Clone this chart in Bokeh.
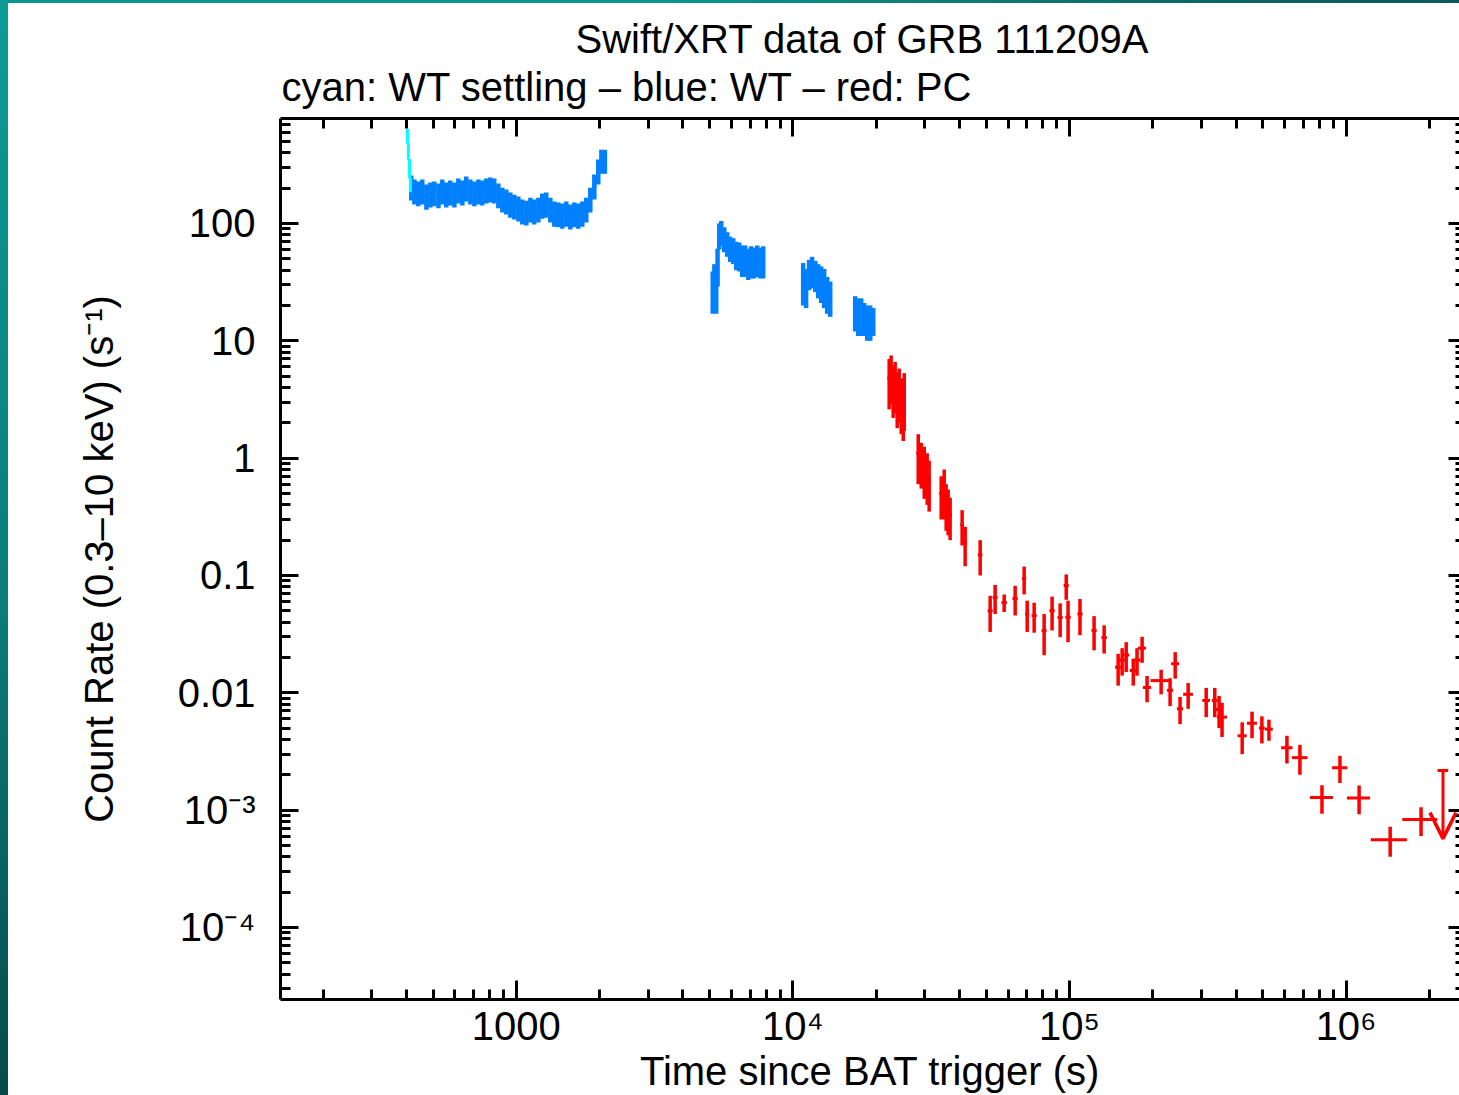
from bokeh.plotting import figure
from bokeh.models import (ColumnDataSource, FixedTicker, LogAxis, Title, Arrow,
                          OpenHead, Div, Range1d)
from bokeh.layouts import row, column
from bokeh.embed import file_html
from bokeh.resources import INLINE

# ---------------- data ----------------
# WT settling mode (cyan)
t_wts = [404, 407, 411, 414]
r_wts = [560, 420, 300, 215]
e_wts = [80, 70, 55, 30]
dt_wts = [1.5, 1.5, 1.5, 1.5]

# WT mode (blue), first orbit
t_wt1 = [417, 428, 442, 457, 473, 489, 505, 523, 540, 558, 577, 597, 617, 638, 659,
         682, 705, 729, 753, 779, 805, 832, 861, 890, 920, 951, 983, 1017, 1051, 1087,
         1124, 1161, 1201, 1241, 1283, 1327, 1372, 1418, 1466, 1516, 1567, 1620, 1675,
         1732, 1790, 1851, 1914, 1978, 2030, 2090]
r_wt1 = [207, 191, 184, 191, 173, 180, 184, 177, 191, 180, 187, 180, 195, 187, 203,
         191, 184, 191, 187, 195, 199, 195, 177, 163, 157, 148, 142, 137, 129, 126,
         134, 129, 134, 145, 148, 134, 124, 122, 119, 124, 117, 122, 119, 124, 134,
         163, 211, 283, 345, 345]
e_wt1 = [50, 46, 44, 46, 42, 43, 44, 42, 46, 43, 45, 43, 47, 45, 49, 46, 44, 46, 45, 47,
         48, 47, 42, 39, 38, 36, 34, 33, 31, 30, 32, 31, 32, 35, 36, 32, 30, 29, 29, 30,
         28, 29, 29, 30, 32, 39, 51, 68, 80, 80]
dt_wt1 = [7, 7, 7, 8, 8, 8, 8, 9, 9, 9, 10, 10, 10, 11, 11, 11, 12, 12, 12, 13, 13, 14,
          14, 15, 15, 16, 16, 17, 17, 18, 19, 19, 20, 21, 21, 22, 23, 23, 24, 25, 26, 27,
          28, 28, 29, 30, 31, 32, 20, 25]

# WT mode (blue), later orbits
t_wt2 = [5130, 5200, 5280, 5340, 5415, 5505, 5645, 5790, 5935, 6085, 6240, 6395, 6555,
         6725, 6895, 7065, 7245, 7430, 7615, 7810]
r_wt2 = [28, 32, 24, 45, 80, 85, 75, 68, 62, 60, 55, 54, 50, 50, 47, 49, 48, 50, 48, 49]
e_wt2 = [11, 13, 7, 16, 20, 20, 18, 16, 15, 15, 15, 15, 15, 15, 14, 15, 14, 15, 14, 15]
dt_wt2 = [60, 60, 60, 65, 70, 70, 70, 75, 75, 80, 80, 85, 85, 90, 90, 90, 95, 95, 100, 100]

t_wt3 = [10890, 11160, 11440, 11730, 12040, 12340, 12650, 12970, 13300, 13640]
r_wt3 = [33, 30, 38, 40, 37, 34, 32, 30, 26, 24]
e_wt3 = [13, 11, 11, 12, 11, 11, 11, 11, 9, 8]
dt_wt3 = [140, 140, 145, 150, 155, 160, 160, 165, 170, 175]

t_wt4 = [16790, 17220, 17650, 18100, 18560, 19030, 19510]
r_wt4 = [18, 17, 17, 16, 15, 15, 15]
e_wt4 = [6, 6, 6, 5, 5, 5, 4]
dt_wt4 = [210, 215, 220, 225, 230, 240, 245]

# PC mode (red)
t_pc = [22280, 22650, 23030, 23420, 23820, 24220, 24630, 25050, 25260,
        28380, 29100, 29840, 30570, 31080,
        34360, 35230, 35810, 36410, 37010,
        40900, 41940, 47530,
        51650, 53830, 58050, 63600, 68550, 70300, 74500, 80950, 86500, 92500, 97300,
        98800, 109100, 122700, 133400,
        149900, 155000, 160300, 170000, 175400, 183000, 190700, 214400, 231000, 241000,
        251000, 268500, 312000, 335000, 347300, 356000, 421000, 457000, 496000, 526000,
        611000, 680700, 818000, 950000, 1114000, 1443000, 1866000]
r_pc = [4.8, 5.2, 4.2, 4.5, 3.6, 3.9, 3.2, 2.7, 3.5,
        1.1, 0.95, 0.85, 0.75, 0.65,
        0.5, 0.55, 0.42, 0.38, 0.33,
        0.27, 0.19, 0.15,
        0.050, 0.065, 0.0588, 0.0636, 0.094, 0.047, 0.0455, 0.0339, 0.050, 0.0438, 0.082,
        0.044, 0.047, 0.034, 0.0296,
        0.0165, 0.019, 0.021, 0.0155, 0.019, 0.024, 0.0111, 0.0127, 0.0105, 0.0177,
        0.0073, 0.0097, 0.0086, 0.0086, 0.0072, 0.0062, 0.0043, 0.0055, 0.0050, 0.0049,
        0.0034, 0.0028, 0.00128, 0.0023, 0.00127, 0.00056, 0.00083]
e_pc = [2.2, 2.3, 2.0, 2.1, 1.8, 1.9, 1.6, 1.3, 1.8,
        0.5, 0.4, 0.4, 0.35, 0.3,
        0.2, 0.25, 0.18, 0.16, 0.13,
        0.09, 0.07, 0.05,
        0.017, 0.018, 0.01, 0.018, 0.025, 0.014, 0.013, 0.013, 0.016, 0.014, 0.02,
        0.017, 0.016, 0.011, 0.008,
        0.005, 0.005, 0.006, 0.004, 0.005, 0.006, 0.0028, 0.003, 0.0028, 0.0045,
        0.0019, 0.0024, 0.0024, 0.0024, 0.0022, 0.002, 0.0013, 0.0014, 0.0013, 0.001,
        0.0009, 0.0008, 0.00035, 0.0006, 0.00035, 0.00016, 0.00023]
dt_pc = [350, 350, 360, 360, 370, 370, 380, 380, 380,
         450, 460, 470, 480, 490,
         550, 560, 570, 580, 590,
         650, 680, 900,
         1100, 1100, 1300, 1400, 1200, 1200, 1600, 1700, 1900, 2000, 2100, 2200, 2400,
         2700, 3000,
         3800, 3900, 4000, 5000, 5000, 6200, 6500, 18000, 6000, 8000, 6500, 11000,
         10000, 8000, 11000, 15000, 16000, 19000, 12000, 17000, 29000, 44000, 78000,
         61000, 107000, 215000, 270000]

# PC upper limit
t_ul = [2240000]
r_ul = [0.00217]
dt_ul = [100000]

# axis ticks and labels
x_major = [1e3, 1e4, 1e5, 1e6]
x_minor = [m * d for d in (100, 1000, 10000, 100000, 1000000) for m in range(2, 10)]
x_labels = {1e3: "1000", 1e4: "10\u2074", 1e5: "10\u2075", 1e6: "10\u2076"}
y_major = [1e-4, 1e-3, 1e-2, 0.1, 1, 10, 100]
y_minor = [m * d for d in (1e-5, 1e-4, 1e-3, 1e-2, 0.1, 1, 10, 100) for m in range(2, 10)]
y_labels = {1e-4: "10\u207b\u2074", 1e-3: "10\u207b\u00b3", 1e-2: "0.01", 0.1: "0.1",
            1: "1", 10: "10", 100: "100"}

TITLE = "Swift/XRT data of GRB 111209A"
SUBTITLE = "cyan: WT settling \u2013 blue: WT \u2013 red: PC"
XLABEL = "Time since BAT trigger (s)"
YLABEL = "Count Rate (0.3\u201310 keV) (s\u207b\u00b9)"

FONT = "Liberation Sans"


def bars(t, r, e, dt):
    return ColumnDataSource(dict(
        t=t, r=r,
        rlo=[a - b for a, b in zip(r, e)], rhi=[a + b for a, b in zip(r, e)],
        tlo=[a - b for a, b in zip(t, dt)], thi=[a + b for a, b in zip(t, dt)]))


p = figure(width=1451, height=1092, x_axis_type="log", y_axis_type="log",
           x_range=Range1d(140.4, 2.57e6), y_range=Range1d(2.43e-5, 785),
           output_backend="svg", toolbar_location=None, title_location=None,
           min_border_left=272, min_border_right=0, min_border_top=115,
           min_border_bottom=96, outline_line_color=None,
           background_fill_color="white", border_fill_color="white")
p.xgrid.visible = False
p.ygrid.visible = False

xt = FixedTicker(ticks=x_major, minor_ticks=x_minor)
yt = FixedTicker(ticks=y_major, minor_ticks=y_minor)


def style_axis(ax, major_in=18, minor_in=10):
    ax.axis_line_width = 3
    ax.axis_line_color = "black"
    ax.major_tick_line_width = 3
    ax.minor_tick_line_width = 3
    ax.major_tick_in = major_in
    ax.major_tick_out = 0
    ax.minor_tick_in = minor_in
    ax.minor_tick_out = 0
    ax.major_label_text_font = FONT
    ax.major_label_text_font_size = "40px"
    ax.major_label_text_color = "black"
    ax.axis_label_text_font = FONT
    ax.axis_label_text_font_size = "40px"
    ax.axis_label_text_font_style = "normal"
    ax.axis_label_text_color = "black"


xa = p.xaxis[0]
xa.ticker = xt
xa.major_label_overrides = x_labels
style_axis(xa, 19, 10)
xa.axis_label = XLABEL
xa.major_label_standoff = 4
xa.axis_label_standoff = -2

ya = p.yaxis[0]
ya.ticker = yt
ya.major_label_overrides = y_labels
style_axis(ya, 18, 10)
ya.axis_label = YLABEL
ya.major_label_standoff = 25
ya.axis_label_standoff = 54

top = LogAxis(ticker=xt)
style_axis(top, 18, 10)
top.major_label_text_font_size = "0px"
top.major_label_text_color = None
top.major_label_standoff = 0
p.add_layout(top, "above")

right = LogAxis(ticker=yt)
style_axis(right, 11, 4)
right.axis_line_color = None
right.major_label_text_font_size = "0px"
right.major_label_text_color = None
right.major_label_standoff = 0
p.add_layout(right, "right")

sub = Title(text=SUBTITLE, align="left", text_font=FONT, text_font_size="40px",
            text_font_style="normal", text_color="black", standoff=19, offset=1)
main = Title(text=TITLE, align="left", text_font=FONT, text_font_size="40px",
             text_font_style="normal", text_color="black", standoff=-14, offset=295)
p.add_layout(sub, "above")
p.add_layout(main, "above")

series = [
    (bars(t_wt1 + t_wt2 + t_wt3 + t_wt4, r_wt1 + r_wt2 + r_wt3 + r_wt4,
          e_wt1 + e_wt2 + e_wt3 + e_wt4, dt_wt1 + dt_wt2 + dt_wt3 + dt_wt4), "#0080ff", 4.5),
    (bars(t_wts, r_wts, e_wts, dt_wts), "#00ffff", 3),
    (bars(t_pc, r_pc, e_pc, dt_pc), "#ff0000", 3.5),
    (bars(t_ul, r_ul, [0], dt_ul), "#ff0000", 3),
]
for src, col, lw in series:
    p.segment(x0="t", y0="rlo", x1="t", y1="rhi", source=src, line_color=col,
              line_width=lw, line_cap="butt")
    p.segment(x0="tlo", y0="r", x1="thi", y1="r", source=src, line_color=col,
              line_width=3, line_cap="butt")

ul_src = ColumnDataSource(dict(t=t_ul, r=r_ul, rend=[v / 3.8 for v in r_ul]))
p.add_layout(Arrow(end=OpenHead(size=26, line_color="#ff0000", line_width=3.5),
                   x_start="t", y_start="r", x_end="t", y_end="rend",
                   source=ul_src, line_color="#ff0000", line_width=3))

left_strip = Div(text="", width=8, height=1095, margin=0,
                 styles={"background": "linear-gradient(to bottom, #0c9b97 0%, #0a7d7a 55%, #064a4b 100%)"})
top_strip = Div(text="", width=1451, height=3, margin=0,
                styles={"background": "linear-gradient(to right, #0b9793 0%, #0b9591 45%, #0b6464 85%, #0b5a5b 100%)"})
layout = row(left_strip, column(top_strip, p, spacing=0), spacing=0)

open("out.html", "w").write(file_html(layout, INLINE))
